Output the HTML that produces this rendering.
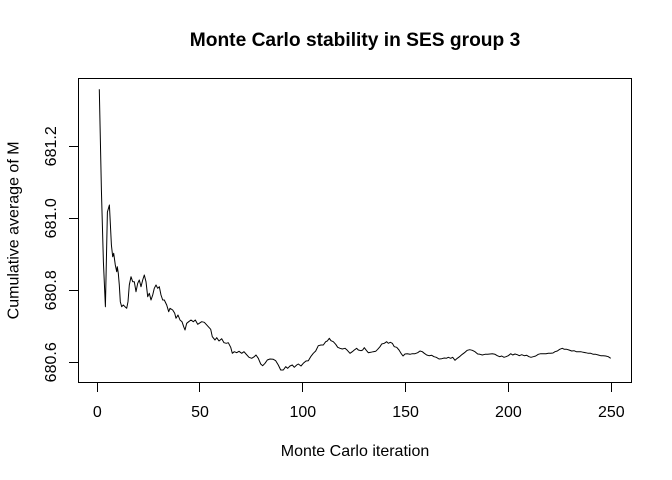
<!DOCTYPE html>
<html>
<head>
<meta charset="utf-8">
<style>
  html, body { margin: 0; padding: 0; background: #ffffff; }
  svg { display: block; }
  text { font-family: "Liberation Sans", Arial, sans-serif; fill: #000; }
</style>
</head>
<body>
<svg width="672" height="480" viewBox="0 0 672 480" xmlns="http://www.w3.org/2000/svg">
  <rect x="0" y="0" width="672" height="480" fill="#ffffff"/>

  <!-- Title -->
  <text x="355" y="46" font-size="19.2" font-weight="bold" text-anchor="middle">Monte Carlo stability in SES group 3</text>

  <!-- Plot box -->
  <rect x="78.5" y="78.5" width="553" height="304" fill="none" stroke="#000" stroke-width="1" shape-rendering="crispEdges"/>

  <!-- X ticks -->
  <g stroke="#000" stroke-width="1" shape-rendering="crispEdges">
    <line x1="97.5" y1="382" x2="97.5" y2="392"/>
    <line x1="199.5" y1="382" x2="199.5" y2="392"/>
    <line x1="302.5" y1="382" x2="302.5" y2="392"/>
    <line x1="405.5" y1="382" x2="405.5" y2="392"/>
    <line x1="508.5" y1="382" x2="508.5" y2="392"/>
    <line x1="611.5" y1="382" x2="611.5" y2="392"/>
  </g>
  <g font-size="16" text-anchor="middle">
    <text x="97.3" y="417">0</text>
    <text x="200" y="417">50</text>
    <text x="302.8" y="417">100</text>
    <text x="405.6" y="417">150</text>
    <text x="508.4" y="417">200</text>
    <text x="611.3" y="417">250</text>
  </g>

  <!-- Y ticks -->
  <g stroke="#000" stroke-width="1" shape-rendering="crispEdges">
    <line x1="69" y1="146.5" x2="79" y2="146.5"/>
    <line x1="69" y1="218.5" x2="79" y2="218.5"/>
    <line x1="69" y1="290.5" x2="79" y2="290.5"/>
    <line x1="69" y1="362.5" x2="79" y2="362.5"/>
  </g>
  <g font-size="16" text-anchor="middle">
    <text transform="translate(56,146.3) rotate(-90)">681.2</text>
    <text transform="translate(56,218.3) rotate(-90)">681.0</text>
    <text transform="translate(56,290.3) rotate(-90)">680.8</text>
    <text transform="translate(56,362.3) rotate(-90)">680.6</text>
  </g>

  <!-- Axis titles -->
  <text x="355" y="456" font-size="16" text-anchor="middle">Monte Carlo iteration</text>
  <text transform="translate(18.5,230.4) rotate(-90)" font-size="16" text-anchor="middle">Cumulative average of M</text>

  <!-- Series -->
  <polyline fill="none" stroke="#000" stroke-width="1" stroke-linejoin="round" points="
99.3,89.3 101.4,190 103.4,262 105.4,306.7 107.4,212 109.4,205 111.4,245 112.7,256.7 113.7,253.3 115.3,265
116.7,271.7 117.3,266.7 118.3,273.3 119.3,285 120.3,301.7 121.7,306.7 123.3,305 125,306.7 126.7,308.3 128,301.7
129.3,285 131,276.7 132.7,281.7 134.3,281.7 136,291.7 137.7,283.3 139.3,280 141,286.7 142.7,280 144.3,275
146,281.7 147.7,296.7 149.3,293.3 151,300 152.7,295 154.3,288.3 156,285 157.7,288.3 159.3,286.7 161,295
162.7,300 164.3,300 166.7,305 168.7,311.7 170,308.3 172.7,310 174.7,313.3 176,318.3 178,315 180,320
182,321.7 183.7,326.7 185,330 186.7,323.3 188.7,321.7 191,320 193.3,321.7 195.3,320 197.7,324.3 201.7,321.7
204.3,322.3 208.3,326.7 210.7,329.3 212.3,336.7 215,340 216.7,337.7 219,341 221.7,338.7 224,342.7 226.3,343.3
228.3,342.7 230.7,347.3 232.3,353.3 234.3,351.7 236.7,352.7 239,351.3 241.7,353.3 244,351.7 246,354 249,357.3
251.7,358.3 254.3,356.7 256,355 258.3,358.3 260.7,364 262.7,365.7 265,363.3 267.3,360 270,359 273.3,359.3
275.7,360.7 278.3,365 280.7,370 283.3,370 285.7,366.7 287.7,368.3 290,366 292.3,365 294.3,367.3 296.7,365
298.3,364 301,366 303.3,363.3 306,361 308.3,360.7 310.7,356.7 313.3,353.3 315.7,351 318.3,345.7 321,345
323.3,345 325.7,341.7 327.3,341 329.3,338.3 331,340.7 333.3,341.7 335.7,344.3 337.7,347.3 340,348.3 342.3,349
345,348.3 347.3,350.3 350,353.3 352.3,351.7 354.3,350 356.7,348.3 358.3,350 361,350.7 362.7,350 364.3,347.7
366.3,350.3 368.3,352.7 370.7,352.3 373.3,351.7 375.7,351.3 377.7,349.3 380,346.7 381.7,344 384.3,343.3 386.7,341.7
388.3,343.3 390.3,342.3 392.3,343.3 394.3,346.7 396.7,347.3 399,350 401,353.3 403,356 405,354 407.3,353.7
410,354.3 412.3,353.7 415,353.7 417.7,352.7 420,351 422.3,351.7 424.3,353.3 426.7,355 429,355.7 431.7,355.3
434,356.7 436.3,357.3 439,359 441.7,358.7 444.3,358 446.3,358.3 448.3,357.3 450.7,358.3 452.7,357.3 455,360.3
457.3,358.3 460,356.3 462.3,354.3 465,352.3 467.3,350.3 469.7,349.7 472.3,350.3 475,351.7 477.7,354 480,354.3
482.3,355 485,354.3 487.7,354.3 490,354 492.3,353.7 495,354.3 497.3,355.7 499.7,356.7 501.7,356 504,357.3
506,356.7 508.3,355.7 510.7,353.7 512.7,355 515,354 517.3,354.7 519.3,355.7 521.7,354.7 524.3,355.7 526.7,355.3
529,356.7 531,357.3 533.3,356.7 535.7,356 538.3,354.3 540.7,353.7 543.3,353.7 546,353.7 548.3,353.3 550.7,353.3
553,353 555,351.7 557.3,351 559.7,349.3 562.3,348.3 564.3,349.3 566.7,349.3 569,350 571.7,351 574,350.7
576.3,351.7 578.3,351.7 580.7,351.7 583.3,352.3 585.7,352.7 588.3,353.3 590.7,353.3 593.3,354.3 595.7,354.3 598.3,355
600.7,355.7 603.3,355.7 605.7,356 608.3,356.7 610.7,358.3"/>
</svg>
</body>
</html>
